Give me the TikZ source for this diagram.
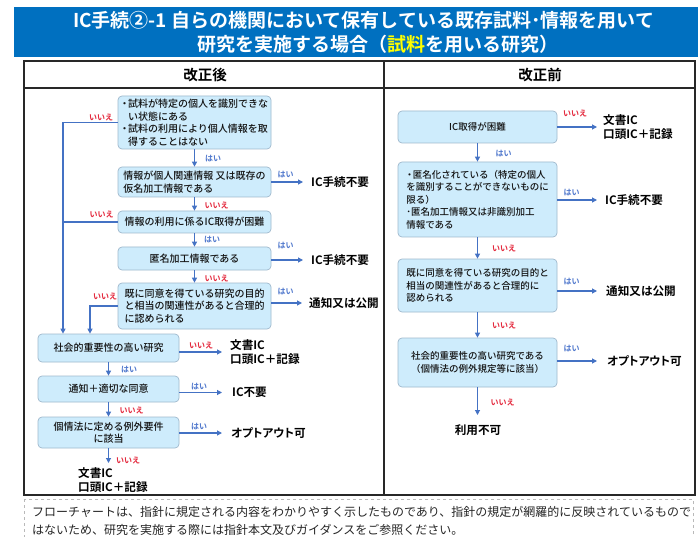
\documentclass[tikz,border=0pt]{standalone}
\usepackage{fontspec}
\setmainfont{Noto Sans CJK JP}[BoldFont={Noto Sans CJK JP Bold}]
\newfontfamily\jpmed{Noto Sans CJK JP Medium}
\usetikzlibrary{arrows.meta}
\definecolor{titleblue}{RGB}{0,112,192}
\definecolor{titleyellow}{RGB}{255,255,0}
\definecolor{boxfill}{RGB}{206,236,252}
\definecolor{boxline}{RGB}{160,185,205}
\definecolor{arrowblue}{RGB}{68,114,196}
\definecolor{yescol}{RGB}{80,120,205}
\definecolor{nocol}{RGB}{228,40,60}
\definecolor{txt}{RGB}{20,20,20}
\definecolor{tblline}{RGB}{40,40,40}
\newcommand{\jbul}{\makebox[0.7em]{・}}
\newcommand{\jind}{\hspace*{0.7em}}
\begin{document}
\begin{tikzpicture}[x=1pt,y=-1pt,
  box/.style={draw=boxline, fill=boxfill, rounded corners=4pt, line width=0.7pt, inner sep=2pt, text=txt},
  lbox/.style={box, minimum width=153pt, font=\jpmed\fontsize{10}{12.5}\selectfont},
  sbox/.style={box, minimum width=141pt, font=\jpmed\fontsize{10}{12.5}\selectfont},
  rbox/.style={box, minimum width=159pt, font=\jpmed\fontsize{9.5}{12.5}\selectfont},
  arr/.style={draw=arrowblue, line width=1.1pt, -{Triangle[length=5pt,width=5pt]}},
  lne/.style={draw=arrowblue, line width=1.1pt},
  yes/.style={text=yescol, font=\bfseries\fontsize{8}{9}\selectfont, inner sep=0pt},
  no/.style={text=nocol, font=\bfseries\fontsize{8}{9}\selectfont, inner sep=0pt},
  res/.style={anchor=west, inner sep=0pt, align=left, font=\bfseries\fontsize{11.6}{14.5}\selectfont, text=black},
  resp/.style={res, font=\bfseries\fontsize{11.6}{14.5}\selectfont\addfontfeature{RawFeature=+palt}},
  tbl/.style={draw=tblline, line width=1.2pt},
  hdr/.style={font=\bfseries\fontsize{14.5}{16}\selectfont, text=black, inner sep=0pt},
  ttl/.style={anchor=west, text=white, inner sep=0pt, font=\bfseries\fontsize{19}{22}\selectfont},
  foot/.style={anchor=west, inner sep=0pt, text=black!85, font=\fontsize{12}{14}\selectfont},
]
\useasboundingbox (0,0) rectangle (698,537);
\fill[white] (0,0) rectangle (698,537);

% title bar
\fill[titleblue] (14,7) rectangle (698,57);
\node[ttl] (t1) at (73,20) {IC手続②-1 自らの機関において保有している既存試料･情報を用いて};
\node[ttl] (t2) at (197,44) {研究を実施する場合（\textcolor{titleyellow}{試料}を用いる研究）};

% table
\draw[tbl] (24,61) rectangle (695,495);
\draw[tbl] (24,88) -- (695,88);
\draw[tbl] (384,61) -- (384,495);
\node[hdr] (h1) at (205,75) {改正後};
\node[hdr] (h2) at (540,75) {改正前};

% ---------- left panel ----------
\node[lbox, minimum height=53pt, align=left] (L1) at (194.5,122.5)
  {\jbul 試料が特定の個人を識別できな\\\jind い状態にある\\\jbul 試料の利用により個人情報を取\\\jind 得することはない};
\node[lbox, minimum height=30pt, align=left] (L2) at (194.5,182)
  {情報が個人関連情報 又は既存の\\仮名加工情報である};
\node[lbox, minimum height=22pt] (L3) at (194.5,222) {情報の利用に係るIC取得が困難};
\node[lbox, minimum height=23pt] (L4) at (194.5,258.5) {匿名加工情報である};
\node[lbox, minimum height=46pt, align=left] (L5) at (194.5,306)
  {既に同意を得ている研究の目的\\と相当の関連性があると合理的\\に認められる};
\node[sbox, minimum height=28pt] (L6) at (108.5,348) {社会的重要性の高い研究};
\node[sbox, minimum height=26pt] (L7) at (108.5,389) {通知＋適切な同意};
\node[sbox, minimum height=31pt, align=center] (L8) at (108.5,432.5) {個情法に定める例外要件\\に該当};

\node[res] (T1) at (311,182) {IC手続不要};
\node[res] (T2) at (311,260) {IC手続不要};
\node[res] (T3) at (309,303) {通知又は公開};
\node[res] (T4) at (230,352) {文書IC\\口頭IC＋記録};
\node[res] (T5) at (232,392.5) {IC不要};
\node[resp] (T6) at (231,433) {オプトアウト可};
\node[res] (T7) at (78,480) {文書IC\\口頭IC＋記録};

\coordinate (c1) at (63,0);
\coordinate (c2) at (90,0);
\coordinate (e1) at (108.5,463);

\draw[arr] (L1.south) -- (L2.north);
\draw[arr] (L2.south) -- (L3.north);
\draw[arr] (L3.south) -- (L4.north);
\draw[arr] (L4.south) -- (L5.north);
\draw[arr] (L6.south) -- (L7.north);
\draw[arr] (L7.south) -- (L8.north);
\draw[arr] (L8.south) -- (e1);

\draw[arr, shorten >=8pt] (L2.east |- T1.west) -- (T1.west);
\draw[arr, shorten >=8pt] (L4.east |- T2.west) -- (T2.west);
\draw[arr, shorten >=7pt] (L5.east |- T3.west) -- (T3.west);
\draw[arr, shorten >=8pt] (L6.east |- T4.west) -- (T4.west);
\draw[arr, shorten >=10pt] (L7.east |- T5.west) -- (T5.west);
\draw[arr, shorten >=9pt] (L8.east |- T6.west) -- (T6.west);

\draw[arr] (L1.west) -| (c1 |- L6.north);
\draw[lne] (L3.west) -- (c1 |- L3.west);
\draw[arr] (L5.west) -| (c2 |- L6.north);

\node[yes] at (213,159) {はい};
\node[yes] at (285.5,175) {はい};
\node[no]  at (216.5,205) {いいえ};
\node[yes] at (212,240) {はい};
\node[yes] at (285.5,246) {はい};
\node[no]  at (216.5,278) {いいえ};
\node[yes] at (285.5,292) {はい};
\node[no]  at (101,117) {いいえ};
\node[no]  at (101.5,214) {いいえ};
\node[no]  at (105,296) {いいえ};
\node[no]  at (201,345) {いいえ};
\node[yes] at (129,370) {はい};
\node[yes] at (199,387) {はい};
\node[no]  at (131.5,410) {いいえ};
\node[yes] at (199,427) {はい};
\node[no]  at (128,460) {いいえ};

% ---------- right panel ----------
\node[rbox, minimum height=32pt] (R1) at (477.5,127) {IC取得が困難};
\node[rbox, minimum height=75pt, align=left] (R2) at (477.5,199.5)
  {\jbul 匿名化されている（特定の個人\\を識別することができないものに\\限る）\\･匿名加工情報又は非識別加工\\情報である};
\node[rbox, minimum height=53pt, align=left] (R3) at (477.5,285.5)
  {既に同意を得ている研究の目的と\\相当の関連性があると合理的に\\認められる};
\node[rbox, minimum height=49pt, align=center] (R4) at (477.5,362.5)
  {社会的重要性の高い研究である\\（個情法の例外規定等に該当）};

\node[res] (U1) at (603,127) {文書IC\\口頭IC＋記録};
\node[res] (U2) at (605,200) {IC手続不要};
\node[res] (U3) at (606,291) {通知又は公開};
\node[resp] (U4) at (607,361) {オプトアウト可};
\node[res, anchor=center] (U5) at (478,430) {利用不可};
\coordinate (e2) at (477.5,415);

\draw[arr] (R1.south) -- (R2.north);
\draw[arr] (R2.south) -- (R3.north);
\draw[arr] (R3.south) -- (R4.north);
\draw[arr] (R4.south) -- (e2);

\draw[arr, shorten >=6pt] (R1.east |- U1.west) -- (U1.west);
\draw[arr, shorten >=8pt] (R2.east |- U2.west) -- (U2.west);
\draw[arr, shorten >=9pt] (R3.east |- U3.west) -- (U3.west);
\draw[arr, shorten >=10pt] (R4.east |- U4.west) -- (U4.west);

\node[no]  at (575,113) {いいえ};
\node[yes] at (503.5,154) {はい};
\node[yes] at (571.5,193) {はい};
\node[no]  at (504,248) {いいえ};
\node[yes] at (571.5,282) {はい};
\node[no]  at (504,325) {いいえ};
\node[yes] at (571.5,349) {はい};
\node[no]  at (502.5,402) {いいえ};

% ---------- footnote ----------
\draw[gray!55, dashed, line width=0.6pt] (24,499) rectangle (693,548);
\node[foot] (f1) at (32,512) {フローチャートは、指針に規定される内容をわかりやすく示したものであり、指針の規定が網羅的に反映されているもので};
\node[foot] (f2) at (32,530) {はないため、研究を実施する際には指針本文及びガイダンスをご参照ください。};
\end{tikzpicture}
\end{document}
